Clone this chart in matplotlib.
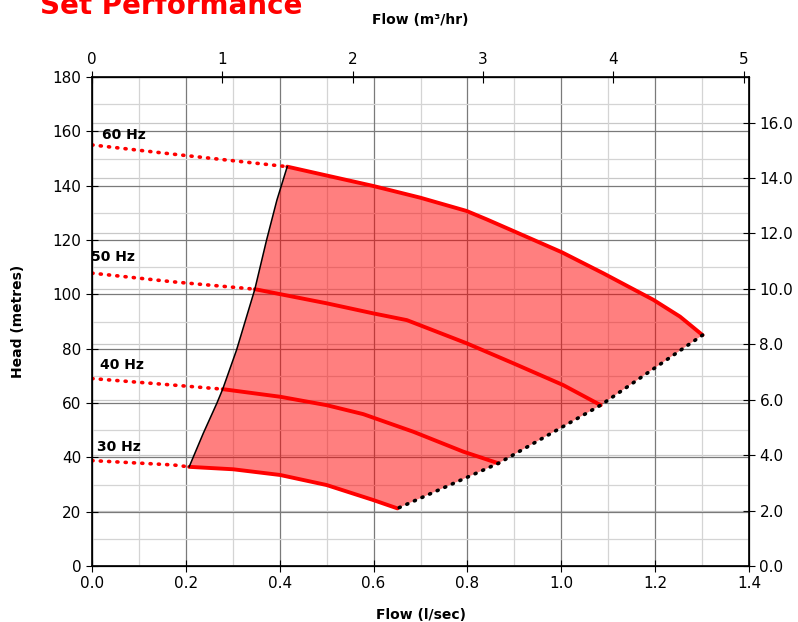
import numpy as np
import matplotlib
matplotlib.use('Agg')
import matplotlib.pyplot as plt
from matplotlib.ticker import MultipleLocator, FormatStrFormatter

# unit conversions for secondary axes
LS_TO_M3HR = 3.6
M_PER_BAR = 10.2

# operating curves, flow (l/sec) vs head (metres), solid part
q60 = [0.416, 0.599, 0.699, 0.798, 0.841, 0.898, 1.001, 1.090, 1.196, 1.253, 1.301]
h60 = [147.0, 139.9, 135.6, 130.7, 127.6, 123.3, 115.5, 107.7, 98.0, 91.8, 85.0]
q50 = [0.347, 0.500, 0.599, 0.671, 0.798, 0.898, 1.004, 1.084]
h50 = [101.9, 96.7, 93.0, 90.5, 82.0, 74.6, 66.6, 59.2]
q40 = [0.2785, 0.401, 0.500, 0.578, 0.685, 0.791, 0.866]
h40 = [65.1, 62.3, 59.2, 55.9, 49.4, 42.1, 37.8]
q30 = [0.207, 0.301, 0.401, 0.500, 0.599, 0.651]
h30 = [36.5, 35.6, 33.5, 29.8, 24.3, 21.2]

# dotted extensions back to zero flow
qext = [0.0, 0.173]
hext60 = [155.0, 151.6]
hext50 = [107.8, 104.6]
hext40 = [69.0, 66.6]
hext30 = [38.8, 37.2]

# left (minimum flow) boundary
q_left = [0.207, 0.237, 0.266, 0.2785, 0.308, 0.347, 0.372, 0.394, 0.416]
h_left = [36.5, 48.8, 59.9, 65.1, 79.5, 101.9, 120.0, 134.7, 147.0]

labels = ['60 Hz', '50 Hz', '40 Hz', '30 Hz']
label_pos = [(0.021, 158.6), (-0.002, 113.7), (0.017, 74.0), (0.011, 43.8)]

fig = plt.figure(figsize=(7.98, 6.22), dpi=100)
ax = fig.add_axes([92/798, 56/622, 657/798, 489/622])

red = '#ff0000'

# shaded operating region
right_q = [q60[-1], q50[-1], q40[-1], q30[-1]]
right_h = [h60[-1], h50[-1], h40[-1], h30[-1]]
poly_q = list(q60) + right_q[1:] + list(q30[::-1])[1:] + q_left[1:]
poly_h = list(h60) + right_h[1:] + list(h30[::-1])[1:] + h_left[1:]
ax.fill(poly_q, poly_h, color=red, alpha=0.5, lw=0, zorder=3)

for q, h, he in [(q60, h60, hext60), (q50, h50, hext50),
                 (q40, h40, hext40), (q30, h30, hext30)]:
    ax.plot(q, h, color=red, lw=2.8, solid_capstyle='round',
            solid_joinstyle='round', zorder=5)
    ax.plot(qext + [q[0]], he + [h[0]], color=red, lw=2.6,
            linestyle=(0, (0.3, 2.0)), dash_capstyle='round', zorder=5)

ax.plot(q_left, h_left, color='black', lw=1.1, zorder=6)
ax.plot(right_q, right_h, color='black', lw=2.6,
        linestyle=(0, (0.3, 2.0)), dash_capstyle='round', zorder=6)

for txt, (x, y) in zip(labels, label_pos):
    ax.text(x, y, txt, fontsize=10, fontweight='bold', ha='left', va='center', zorder=7)

ax.set_xlim(0, 1.4)
ax.set_ylim(0, 180)
ax.xaxis.set_major_locator(MultipleLocator(0.2))
ax.xaxis.set_minor_locator(MultipleLocator(0.1))
ax.yaxis.set_major_locator(MultipleLocator(20))
ax.yaxis.set_minor_locator(MultipleLocator(10))
ax.xaxis.set_major_formatter(FormatStrFormatter('%.1f'))
ax.grid(which='major', color='#7a7a7a', lw=0.9, zorder=0)
ax.grid(which='minor', color='#d4d4d4', lw=0.9, zorder=0)
ax.set_axisbelow(True)
ax.tick_params(which='major', direction='inout', length=8, labelsize=11, width=0.8)
ax.tick_params(which='minor', length=0)
ax.set_xlabel('Flow (l/sec)', fontsize=10, fontweight='bold', labelpad=12)
ax.set_ylabel('Head (metres)', fontsize=10, fontweight='bold', labelpad=20)
for s in ax.spines.values():
    s.set_linewidth(1.2)

# right axis in bar
ax2 = ax.twinx()
ax2.set_ylim(0, 180 / M_PER_BAR)
ax2.yaxis.set_major_locator(MultipleLocator(2))
ax2.yaxis.set_major_formatter(FormatStrFormatter('%.1f'))
ax2.tick_params(direction='inout', length=8, labelsize=11, width=0.8)
ax2.grid(color='#c8c8c8', lw=0.9, zorder=0)
ax2.set_axisbelow(True)
ax2.set_zorder(-1)
ax.patch.set_visible(False)

# top axis in m3/hr
ax3 = ax.twiny()
ax3.set_xlim(0, 1.4 * LS_TO_M3HR)
ax3.xaxis.set_major_locator(MultipleLocator(1))
ax3.tick_params(direction='inout', length=8, labelsize=11, width=0.8)
ax3.set_xlabel('Flow (m³/hr)', fontsize=10, fontweight='bold', labelpad=20)

fig.text(40/798, 1 - 14/622, 'Set Performance', color=red, fontsize=20,
         fontweight='bold', ha='left', va='baseline')

fig.savefig('out.png', dpi=100)
